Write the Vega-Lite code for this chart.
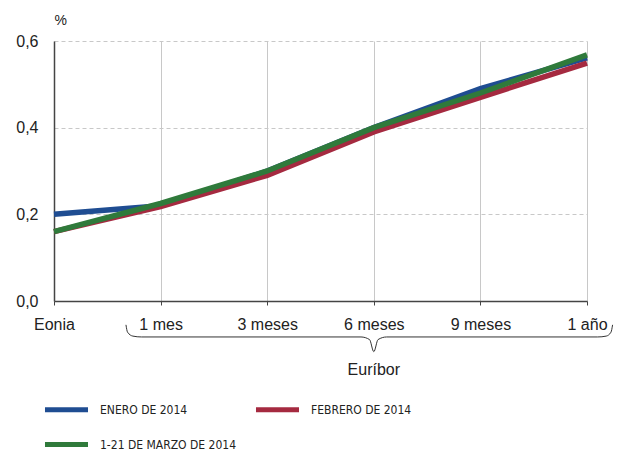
{
  "$schema": "https://vega.github.io/schema/vega-lite/v6.json",
  "width": 533,
  "height": 260,
  "autosize": "none",
  "padding": {"left": 54, "top": 41, "right": 34, "bottom": 151},
  "config": {
    "view": {"stroke": null},
    "font": "Liberation Sans",
    "axis": {"labelFont": "Liberation Sans", "labelFontSize": 16, "labelColor": "#222", "titleFont": "Liberation Sans"}
  },
  "datasets": {
    "rates": [
      {"plazo": 0, "serie": "ENERO DE 2014", "valor": 0.20},
      {"plazo": 1, "serie": "ENERO DE 2014", "valor": 0.22},
      {"plazo": 2, "serie": "ENERO DE 2014", "valor": 0.30},
      {"plazo": 3, "serie": "ENERO DE 2014", "valor": 0.40},
      {"plazo": 4, "serie": "ENERO DE 2014", "valor": 0.49},
      {"plazo": 5, "serie": "ENERO DE 2014", "valor": 0.561},
      {"plazo": 0, "serie": "FEBRERO DE 2014", "valor": 0.16},
      {"plazo": 1, "serie": "FEBRERO DE 2014", "valor": 0.218},
      {"plazo": 2, "serie": "FEBRERO DE 2014", "valor": 0.29},
      {"plazo": 3, "serie": "FEBRERO DE 2014", "valor": 0.39},
      {"plazo": 4, "serie": "FEBRERO DE 2014", "valor": 0.47},
      {"plazo": 5, "serie": "FEBRERO DE 2014", "valor": 0.549},
      {"plazo": 0, "serie": "1-21 DE MARZO DE 2014", "valor": 0.16},
      {"plazo": 1, "serie": "1-21 DE MARZO DE 2014", "valor": 0.225},
      {"plazo": 2, "serie": "1-21 DE MARZO DE 2014", "valor": 0.30},
      {"plazo": 3, "serie": "1-21 DE MARZO DE 2014", "valor": 0.40},
      {"plazo": 4, "serie": "1-21 DE MARZO DE 2014", "valor": 0.48},
      {"plazo": 5, "serie": "1-21 DE MARZO DE 2014", "valor": 0.568}
    ],
    "brace": [
      {"i": 0, "x": 0.675, "y": -0.055},
      {"i": 1, "x": 0.69, "y": -0.072},
      {"i": 2, "x": 0.74, "y": -0.081},
      {"i": 3, "x": 0.82, "y": -0.083},
      {"i": 4, "x": 2.88, "y": -0.083},
      {"i": 5, "x": 2.96, "y": -0.089},
      {"i": 6, "x": 3.0, "y": -0.117},
      {"i": 7, "x": 3.04, "y": -0.089},
      {"i": 8, "x": 3.12, "y": -0.083},
      {"i": 9, "x": 5.10, "y": -0.083},
      {"i": 10, "x": 5.18, "y": -0.081},
      {"i": 11, "x": 5.225, "y": -0.072},
      {"i": 12, "x": 5.24, "y": -0.055}
    ],
    "notes": [{"etiqueta": "Euríbor", "x": 3, "y": -0.16}]
  },
  "layer": [
    {
      "data": {"name": "rates"},
      "mark": {"type": "line", "strokeWidth": 5.5, "strokeCap": "butt"},
      "encoding": {
        "x": {
          "field": "plazo", "type": "quantitative",
          "scale": {"domain": [0, 5], "nice": false, "zero": false},
          "axis": {
            "values": [0, 1, 2, 3, 4, 5],
            "labelExpr": "['Eonia','1 mes','3 meses','6 meses','9 meses','1 año'][datum.value]",
            "title": null,
            "grid": true, "gridColor": "#c8c8c8", "gridWidth": 1,
            "domainColor": "#444", "domainWidth": 1.5,
            "ticks": true, "tickSize": 4, "tickColor": "#444",
            "labelPadding": 11, "labelFlush": false, "labelOverlap": false
          }
        },
        "y": {
          "field": "valor", "type": "quantitative",
          "scale": {"domain": [0, 0.6], "nice": false},
          "axis": {
            "values": [0, 0.2, 0.4, 0.6],
            "labelExpr": "replace(format(datum.value, '.1f'), '.', ',')",
            "title": "%", "titleAngle": 0, "titleAlign": "left", "titleBaseline": "alphabetic",
            "titleX": 0, "titleY": -17, "titleFontSize": 14, "titleFontWeight": "normal", "titleColor": "#222",
            "grid": true, "gridColor": "#c8c8c8", "gridDash": [4, 3], "gridWidth": 1,
            "domainColor": "#444", "domainWidth": 1.5,
            "ticks": true, "tickSize": 0,
            "labelPadding": 16
          }
        },
        "color": {
          "field": "serie", "type": "nominal",
          "scale": {
            "domain": ["ENERO DE 2014", "FEBRERO DE 2014", "1-21 DE MARZO DE 2014"],
            "range": ["#1f4d92", "#a52a40", "#2f7a3b"]
          },
          "legend": {
            "title": null, "orient": "none", "legendX": -12, "legendY": 344,
            "direction": "horizontal", "columns": 2, "columnPadding": 8, "rowPadding": -8,
            "symbolType": "stroke", "symbolSize": 1850, "symbolStrokeWidth": 5,
            "labelFont": "'DejaVu Sans Condensed', 'Liberation Sans', sans-serif", "labelFontSize": 12, "labelColor": "#222",
            "labelOffset": 9
          }
        }
      }
    },
    {
      "data": {"name": "brace"},
      "mark": {"type": "line", "color": "#333", "strokeWidth": 1, "interpolate": "monotone"},
      "encoding": {
        "x": {"field": "x", "type": "quantitative"},
        "y": {"field": "y", "type": "quantitative"},
        "order": {"field": "i"}
      }
    },
    {
      "data": {"name": "notes"},
      "mark": {"type": "text", "fontSize": 16, "color": "#222", "font": "Liberation Sans"},
      "encoding": {
        "x": {"field": "x", "type": "quantitative"},
        "y": {"field": "y", "type": "quantitative"},
        "text": {"field": "etiqueta"}
      }
    }
  ]
}
